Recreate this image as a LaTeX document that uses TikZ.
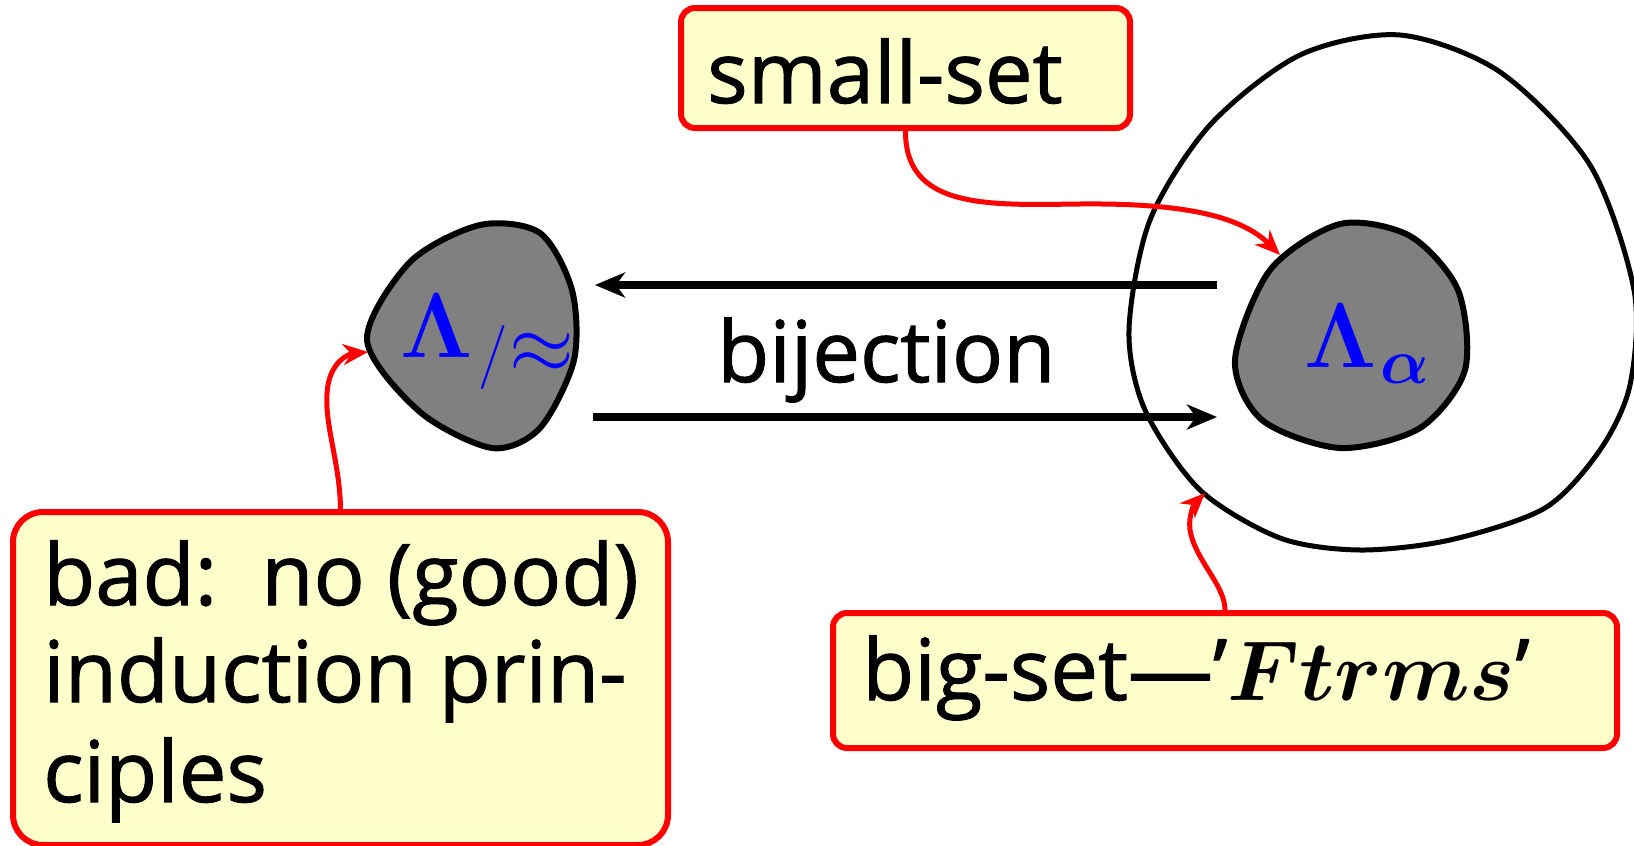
\documentclass[tikz,border=0pt]{standalone}
\usepackage{fix-cm}
\usepackage{amsmath}
\usepackage{bm}
\usepackage{fontspec}
\setmainfont{Open Sans}[FakeBold=1.2]
\usetikzlibrary{arrows.meta}
\definecolor{boxfill}{RGB}{255,255,204}
\definecolor{blobgray}{RGB}{128,128,128}
\newcommand{\lowsub}[1]{\raisebox{-16pt}{\fontsize{64}{70}\selectfont$#1$}}
\begin{document}
\begin{tikzpicture}[x=1pt,y=-1pt,
  note/.style={draw=red, line width=6pt, fill=boxfill, rounded corners=14pt, inner sep=0pt},
  lbl/.style={anchor=base west, inner sep=0pt, font=\fontsize{85}{98}\selectfont},
  mlbl/.style={anchor=base west, inner sep=0pt, text=blue, font=\fontsize{92}{100}\selectfont},
  blob/.style={draw=black, line width=6pt, fill=blobgray},
  bigblob/.style={draw=black, line width=5pt},
  bij/.style={line width=8pt, -{Stealth[length=30pt,width=25pt,inset=9pt]}},
  pointer/.style={draw=red, line width=5pt, -{Stealth[length=25pt,width=21pt,inset=8pt]}}
]
\useasboundingbox (0,0) rectangle (1634,846);
\fill[white] (0,0) rectangle (1634,846);

% boxes
\node[note, minimum width=449pt, minimum height=120pt] (ss) at (905.5,68) {};
\node[note, rounded corners=30pt, minimum width=655pt, minimum height=333pt] (bad) at (340.5,678.5) {};
\node[note, minimum width=784pt, minimum height=135pt] (bs) at (1225,680.5) {};

% texts
\node[lbl] (tss) at (707,103) {small-set};
\node[lbl] (tbij) at (717,382) {bijection};
\node[lbl] (tbs) at (862,700) {big-set—'$\bm{Ftrms}$'};
\node[lbl] (tbad1) at (43,605) {bad:\ \ no (good)};
\node[lbl] (tbad2) at (43,702) {induction prin-};
\node[lbl] (tbad3) at (43,802) {ciples};

% blobs
\draw[bigblob] plot[smooth cycle] coordinates {(1129,330) (1150,220) (1210,125) (1300,55) (1400,35) (1500,72) (1590,165) (1634,290) (1630,385) (1600,450) (1545,508) (1450,540) (1360,550) (1280,538) (1200,490) (1145,410)};
\draw[blob] plot[smooth cycle] coordinates {(367,340) (410,262) (480,225) (540,233) (572,290) (574,360) (540,428) (492,448) (420,412)};
\draw[blob] plot[smooth cycle] coordinates {(1235,360) (1270,270) (1340,224) (1410,236) (1458,290) (1465,370) (1420,428) (1340,448) (1262,420)};

\node[mlbl] (lq) at (400,357) {$\bm{\Lambda}$\kern6pt\lowsub{/}\kern2pt\raisebox{-16pt}{\scalebox{1.3}{\fontsize{64}{70}\selectfont$\approx$}}};
\node[mlbl] (la) at (1304,367) {$\bm{\Lambda}$\kern4pt\lowsub{\bm{\alpha}}};

% bijection arrows
\coordinate (uas) at (1217,285);
\coordinate (uae) at (595,285);
\coordinate (las) at (593,417);
\coordinate (lae) at (1217,417);
\draw[bij] (uas) -- (uae);
\draw[bij] (las) -- (lae);

% pointers
\coordinate (tipa) at (1280,255);
\coordinate (tipq) at (368,352);
\coordinate (tipb) at (1205,493);
\draw[pointer] (ss.south) .. controls (905,210) and (990,205) .. (1080,204) .. controls (1180,203) and (1240,215) .. (tipa);
\draw[pointer] (bad.north) .. controls (340,460) and (322,420) .. (328,385) .. controls (332,362) and (348,354) .. (tipq);
\draw[pointer] (bs.north) .. controls (1225,585) and (1195,560) .. (1190,530) .. controls (1188,515) and (1195,503) .. (tipb);
\end{tikzpicture}
\end{document}
